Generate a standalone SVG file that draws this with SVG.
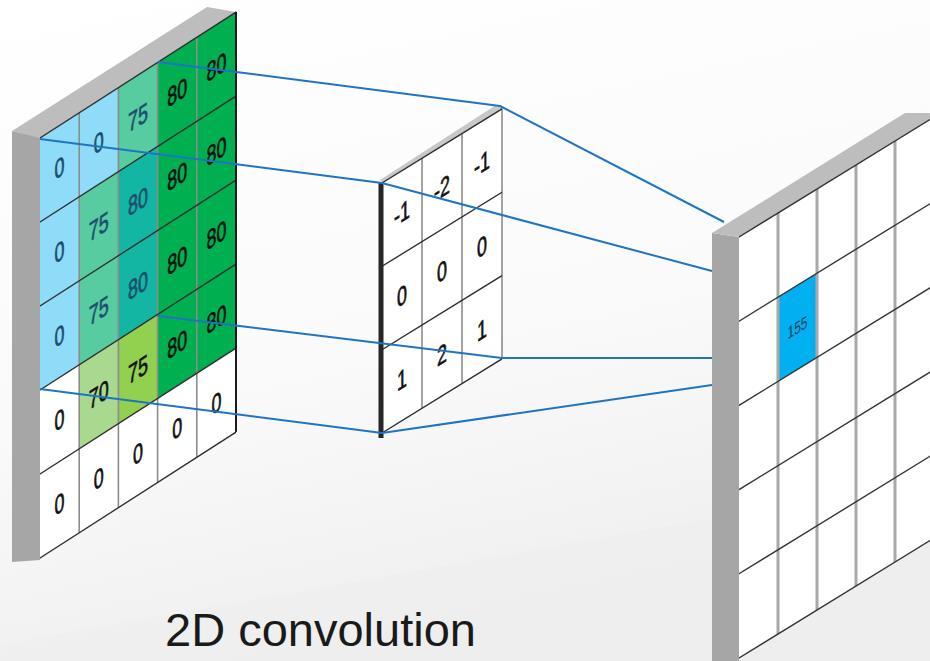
<svg xmlns="http://www.w3.org/2000/svg" width="930" height="661" viewBox="0 0 930 661">
  <defs>
    <linearGradient id="bg" x1="0" y1="0" x2="0.3" y2="1">
      <stop offset="0" stop-color="#FFFFFF"/>
      <stop offset="0.6" stop-color="#FAFAFA"/>
      <stop offset="1" stop-color="#EFEFEF"/>
    </linearGradient>
    <style>
      .side { fill: #A6A6A6; }
      .top { fill: #BDBDBD; }
      .vline { stroke: #8C8C8C; stroke-width: 1.6; }
      .hline { stroke: #2E2E2E; stroke-width: 1.6; }
      .num { font-family: "Liberation Sans", Arial, sans-serif; font-size: 23px; text-anchor: middle; dominant-baseline: central; fill: #111111; stroke: #111111; stroke-width: 0.6; }
      .num.tint { fill: #1C4E6E; stroke: #1C4E6E; }
      .link { fill: none; stroke: #1F74C4; stroke-width: 2; stroke-linejoin: round; }
      .caption { font-family: "Liberation Sans", Arial, sans-serif; font-size: 47px; fill: #1A1A1A; }
    </style>
  </defs>

  <!-- backdrop -->
  <rect x="0" y="0" width="930" height="661" fill="url(#bg)"/>
  <polygon points="0,645 930,480 930,661 0,661" fill="#EEEEEE" opacity="0.5"/>

  <!-- input feature map: 5x5 grid on a slab -->
  <g id="input-map">
    <polygon class="side" points="12,131 40,137 40,560 12,562"/>
    <polygon class="top" points="12,131 207,7 236,12 40,138"/>
    <g transform="translate(40,138) skewY(-32.7)">
      <!-- row 0 -->
      <rect x="0" y="0" width="39.2" height="84" fill="#8EDCF8"/>
      <rect x="39.2" y="0" width="39.2" height="84" fill="#8EDCF8"/>
      <rect x="78.4" y="0" width="39.2" height="84" fill="#57CCA0"/>
      <rect x="117.6" y="0" width="39.2" height="84" fill="#00B050"/>
      <rect x="156.8" y="0" width="39.2" height="84" fill="#00B050"/>
      <!-- row 1 -->
      <rect x="0" y="84" width="39.2" height="84" fill="#8EDCF8"/>
      <rect x="39.2" y="84" width="39.2" height="84" fill="#57CCA0"/>
      <rect x="78.4" y="84" width="39.2" height="84" fill="#12B6A2"/>
      <rect x="117.6" y="84" width="39.2" height="84" fill="#00B050"/>
      <rect x="156.8" y="84" width="39.2" height="84" fill="#00B050"/>
      <!-- row 2 -->
      <rect x="0" y="168" width="39.2" height="84" fill="#8EDCF8"/>
      <rect x="39.2" y="168" width="39.2" height="84" fill="#57CCA0"/>
      <rect x="78.4" y="168" width="39.2" height="84" fill="#12B6A2"/>
      <rect x="117.6" y="168" width="39.2" height="84" fill="#00B050"/>
      <rect x="156.8" y="168" width="39.2" height="84" fill="#00B050"/>
      <!-- row 3 -->
      <rect x="0" y="252" width="39.2" height="84" fill="#FFFFFF"/>
      <rect x="39.2" y="252" width="39.2" height="84" fill="#A9D98E"/>
      <rect x="78.4" y="252" width="39.2" height="84" fill="#92D050"/>
      <rect x="117.6" y="252" width="39.2" height="84" fill="#00B050"/>
      <rect x="156.8" y="252" width="39.2" height="84" fill="#00B050"/>
      <!-- row 4 -->
      <rect x="0" y="336" width="196" height="84" fill="#FFFFFF"/>

      <!-- grid lines -->
      <line class="vline" x1="39.2" y1="0" x2="39.2" y2="420"/>
      <line class="vline" x1="78.4" y1="0" x2="78.4" y2="420"/>
      <line class="vline" x1="117.6" y1="0" x2="117.6" y2="420"/>
      <line class="vline" x1="156.8" y1="0" x2="156.8" y2="420"/>
      <line class="hline" x1="0" y1="0" x2="196" y2="0"/>
      <line class="hline" x1="0" y1="84" x2="196" y2="84"/>
      <line class="hline" x1="0" y1="168" x2="196" y2="168"/>
      <line class="hline" x1="0" y1="252" x2="196" y2="252"/>
      <line class="hline" x1="0" y1="336" x2="196" y2="336"/>
      <line class="hline" x1="0" y1="420" x2="196" y2="420"/>
      <line stroke="#1A1A1A" stroke-width="2" x1="196" y1="0" x2="196" y2="420"/>

      <!-- values (narrowed glyphs) -->
      <text class="num tint" transform="translate(19.6,42) scale(0.78,1.15)">0</text>
      <text class="num tint" transform="translate(58.8,42) scale(0.78,1.15)">0</text>
      <text class="num tint" transform="translate(98,42) scale(0.78,1.15)">75</text>
      <text class="num" transform="translate(137.2,42) scale(0.78,1.15)">80</text>
      <text class="num" transform="translate(176.4,42) scale(0.78,1.15)">80</text>

      <text class="num tint" transform="translate(19.6,126) scale(0.78,1.15)">0</text>
      <text class="num tint" transform="translate(58.8,126) scale(0.78,1.15)">75</text>
      <text class="num tint" transform="translate(98,126) scale(0.78,1.15)">80</text>
      <text class="num" transform="translate(137.2,126) scale(0.78,1.15)">80</text>
      <text class="num" transform="translate(176.4,126) scale(0.78,1.15)">80</text>

      <text class="num tint" transform="translate(19.6,210) scale(0.78,1.15)">0</text>
      <text class="num tint" transform="translate(58.8,210) scale(0.78,1.15)">75</text>
      <text class="num tint" transform="translate(98,210) scale(0.78,1.15)">80</text>
      <text class="num" transform="translate(137.2,210) scale(0.78,1.15)">80</text>
      <text class="num" transform="translate(176.4,210) scale(0.78,1.15)">80</text>

      <text class="num" transform="translate(19.6,294) scale(0.78,1.15)">0</text>
      <text class="num" transform="translate(58.8,294) scale(0.78,1.15)">70</text>
      <text class="num" transform="translate(98,294) scale(0.78,1.15)">75</text>
      <text class="num" transform="translate(137.2,294) scale(0.78,1.15)">80</text>
      <text class="num" transform="translate(176.4,294) scale(0.78,1.15)">80</text>

      <text class="num" transform="translate(19.6,378) scale(0.78,1.15)">0</text>
      <text class="num" transform="translate(58.8,378) scale(0.78,1.15)">0</text>
      <text class="num" transform="translate(98,378) scale(0.78,1.15)">0</text>
      <text class="num" transform="translate(137.2,378) scale(0.78,1.15)">0</text>
      <text class="num" transform="translate(176.4,378) scale(0.78,1.15)">0</text>
    </g>
  </g>

  <!-- 3x3 kernel -->
  <g id="kernel">
    <polygon fill="#C8C8C8" points="380,180 496,105 502,108 384,184"/>
    <g transform="translate(382,183) skewY(-31.7)">
      <rect x="0" y="0" width="120" height="250" fill="#FFFFFF"/>
      <line class="vline" x1="40" y1="0" x2="40" y2="250"/>
      <line class="vline" x1="80" y1="0" x2="80" y2="250"/>
      <line class="vline" x1="120" y1="0" x2="120" y2="250"/>
      <line class="hline" x1="0" y1="0" x2="120" y2="0"/>
      <line class="hline" x1="0" y1="83.3" x2="120" y2="83.3"/>
      <line class="hline" x1="0" y1="166.7" x2="120" y2="166.7"/>
      <line class="hline" x1="0" y1="250" x2="120" y2="250"/>

      <text class="num" transform="translate(20,41.7) scale(0.78,1.15)">-1</text>
      <text class="num" transform="translate(60,41.7) scale(0.78,1.15)">-2</text>
      <text class="num" transform="translate(100,41.7) scale(0.78,1.15)">-1</text>
      <text class="num" transform="translate(20,125) scale(0.78,1.15)">0</text>
      <text class="num" transform="translate(60,125) scale(0.78,1.15)">0</text>
      <text class="num" transform="translate(100,125) scale(0.78,1.15)">0</text>
      <text class="num" transform="translate(20,208.3) scale(0.78,1.15)">1</text>
      <text class="num" transform="translate(60,208.3) scale(0.78,1.15)">2</text>
      <text class="num" transform="translate(100,208.3) scale(0.78,1.15)">1</text>
    </g>
    <rect x="378.5" y="182" width="5" height="256" fill="#262626"/>
  </g>

  <!-- projection lines: input window -> kernel -> output cell -->
  <g id="connectors">
    <polyline class="link" points="158,62 500,106 724,222"/>
    <polyline class="link" points="40,139 382,183 712,271"/>
    <polyline class="link" points="158,316 502,358 712,358"/>
    <polyline class="link" points="40,389 382,433 712,385"/>
  </g>

  <!-- output feature map -->
  <g id="output-map">
    <polygon class="side" points="712,233 739,237 739,661 712,661"/>
    <polygon class="top" points="712,233 905,113 930,113 930,120 739,237"/>
    <g transform="translate(739,237) skewY(-31.6)">
      <rect x="0" y="0" width="195" height="421" fill="#FFFFFF"/>
      <rect x="39" y="84.2" width="39" height="84.2" fill="#00B0F0"/>
      <g stroke="#A8A8A8" stroke-width="3">
        <line x1="39" y1="0" x2="39" y2="421"/>
        <line x1="78" y1="0" x2="78" y2="421"/>
        <line x1="117" y1="0" x2="117" y2="421"/>
        <line x1="156" y1="0" x2="156" y2="421"/>
      </g>
      <g stroke="#333333" stroke-width="1.6">
        <line x1="0" y1="0" x2="195" y2="0"/>
        <line x1="0" y1="84.2" x2="195" y2="84.2"/>
        <line x1="0" y1="168.4" x2="195" y2="168.4"/>
        <line x1="0" y1="252.6" x2="195" y2="252.6"/>
        <line x1="0" y1="336.8" x2="195" y2="336.8"/>
        <line x1="0" y1="421" x2="195" y2="421"/>
      </g>
      <text transform="translate(58.5,126.3) scale(0.8,1.15)" font-family="Liberation Sans, Arial, sans-serif" font-size="15" text-anchor="middle" dominant-baseline="central" fill="#1A3A50">155</text>
    </g>
  </g>

  <g id="caption">
    <text class="caption" x="165" y="646">2D convolution</text>
  </g>
</svg>
